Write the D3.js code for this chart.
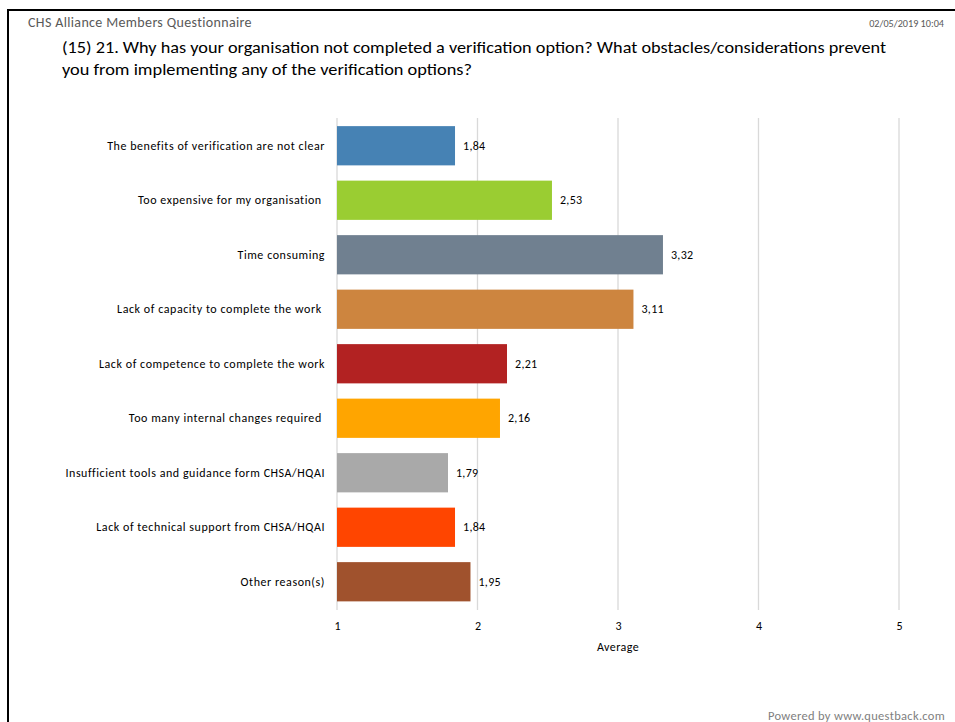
<!DOCTYPE html>
<html>
<head>
<meta charset="utf-8">
<script src="https://cdn.jsdelivr.net/npm/d3@7"></script>
<style>
  html, body { margin: 0; padding: 0; background: #fff; }
  svg { display: block; }
  text { font-family: Carlito, Calibri, Lato, "Open Sans", sans-serif; }
</style>
</head>
<body>
<div id="chart"></div>
<script>
// Survey answers: average score per obstacle
const categories = [
  "The benefits of verification are not clear",
  "Too expensive for my organisation ",
  "Time consuming",
  "Lack of capacity to complete the work ",
  "Lack of competence to complete the work",
  "Too many internal changes required ",
  "Insufficient tools and guidance form CHSA/HQAI",
  "Lack of technical support from CHSA/HQAI",
  "Other reason(s)"
];
const averages = [1.84, 2.53, 3.32, 3.11, 2.21, 2.16, 1.79, 1.84, 1.95];
const barColors = ["steelblue", "yellowgreen", "slategray", "peru", "firebrick",
                   "orange", "darkgray", "orangered", "sienna"];
const xTicks = [1, 2, 3, 4, 5];

const headerLeft = "CHS Alliance Members Questionnaire";
const headerRight = "02/05/2019 10:04";
const titleLines = [
  "(15) 21. Why has your organisation not completed a verification option? What obstacles/considerations prevent",
  "you from implementing any of the verification options?"
];
const axisTitle = "Average";
const footer = "Powered by www.questback.com";

const W = 955, H = 722;
const svg = d3.select("#chart").append("svg").attr("width", W).attr("height", H);

// page frame (top and left edges)
svg.append("line").attr("x1", 8).attr("x2", W).attr("y1", 10).attr("y2", 10)
  .attr("stroke", "#000").attr("stroke-width", 2);
svg.append("line").attr("x1", 8).attr("x2", 8).attr("y1", 9).attr("y2", H)
  .attr("stroke", "#000").attr("stroke-width", 2);

// header
svg.append("text").attr("x", 28).attr("y", 27).attr("font-size", 14)
  .attr("letter-spacing", 0.35).attr("fill", "#595959").text(headerLeft);
svg.append("text").attr("x", 944).attr("y", 27).attr("font-size", 10.2)
  .attr("text-anchor", "end").attr("fill", "#595959").text(headerRight);

// question title
const titleWidths = [824, 410];
titleLines.forEach((t, i) => {
  svg.append("text").attr("x", 62).attr("y", 53 + i * 22)
    .attr("font-size", 17).attr("fill", "#000")
    .attr("textLength", titleWidths[i])
    .attr("lengthAdjust", "spacingAndGlyphs")
    .text(t);
});

// scales
const x = d3.scaleLinear().domain([1, 5]).range([337, 899]);
const y = d3.scaleBand().domain(categories).range([118.5, 609])
  .paddingInner(0.28).paddingOuter(0.14);

// vertical gridlines
svg.append("g").selectAll("line").data(xTicks).join("line")
  .attr("x1", d => x(d)).attr("x2", d => x(d))
  .attr("y1", 118).attr("y2", 610)
  .attr("stroke", "#d9d9d9").attr("stroke-width", 1.3);

const fontStack = "Carlito, Calibri, Lato, 'Open Sans', sans-serif";

// x axis tick labels
const xAxis = d3.axisBottom(x).tickValues(xTicks).tickSize(0).tickPadding(0)
  .tickFormat(d3.format("d"));
const gx = svg.append("g").attr("transform", "translate(0,621)").call(xAxis);
gx.select(".domain").remove();
gx.selectAll("text").attr("font-size", 12).attr("fill", "#000")
  .style("font-family", fontStack);

svg.append("text").attr("x", x(3)).attr("y", 651).attr("text-anchor", "middle")
  .attr("font-size", 12).attr("letter-spacing", 0.4).attr("fill", "#000").text(axisTitle);

// category labels
const yAxis = d3.axisLeft(y).tickSize(0).tickPadding(12);
const gy = svg.append("g").attr("transform", `translate(${x(1)},0)`).call(yAxis);
gy.select(".domain").remove();
gy.selectAll("text").attr("font-size", 12).attr("letter-spacing", 0.55).attr("fill", "#000")
  .style("font-family", fontStack)
  .style("white-space", "pre");

// bars
svg.append("g").selectAll("rect").data(averages).join("rect")
  .attr("x", x(1))
  .attr("y", (d, i) => y(categories[i]))
  .attr("width", d => x(d) - x(1))
  .attr("height", y.bandwidth())
  .attr("fill", (d, i) => barColors[i]);

// value labels
const fmt = d => d3.format(".2f")(d).replace(".", ",");
svg.append("g").selectAll("text").data(averages).join("text")
  .attr("x", d => x(d) + 8)
  .attr("y", (d, i) => y(categories[i]) + y.bandwidth() / 2)
  .attr("dy", "0.35em")
  .attr("font-size", 12).attr("letter-spacing", 0.3).attr("fill", "#000")
  .text(fmt);

// footer
svg.append("text").attr("x", 945).attr("y", 720).attr("text-anchor", "end")
  .attr("font-size", 12.5).attr("letter-spacing", 0.3).attr("fill", "#7f7f7f").text(footer);
</script>
</body>
</html>
